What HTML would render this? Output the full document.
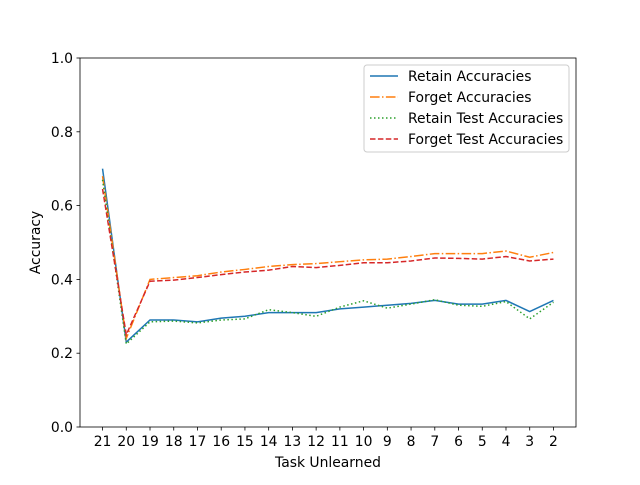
<!DOCTYPE html>
<html><head><meta charset="utf-8"><style>
body{margin:0;background:#fff}
text{font-family:"DejaVu Sans","Liberation Sans",sans-serif;font-size:13.9px;fill:#000}
</style></head><body>
<svg id="chart" width="640" height="480" xmlns="http://www.w3.org/2000/svg">
<rect width="640" height="480" fill="#fff"/>
<g id="plot"></g>
</svg>
<script>
const categories=["21","20","19","18","17","16","15","14","13","12","11","10","9","8","7","6","5","4","3","2"];
const retainAcc=[0.70,0.23,0.29,0.29,0.285,0.295,0.30,0.31,0.31,0.31,0.32,0.325,0.33,0.335,0.343,0.333,0.333,0.343,0.313,0.343];
const forgetAcc=[0.68,0.24,0.40,0.405,0.41,0.42,0.427,0.435,0.44,0.443,0.448,0.453,0.455,0.462,0.47,0.47,0.47,0.477,0.46,0.473];
const retainTestAcc=[0.67,0.225,0.285,0.287,0.282,0.29,0.293,0.318,0.31,0.30,0.325,0.342,0.322,0.333,0.345,0.33,0.327,0.34,0.293,0.338];
const forgetTestAcc=[0.645,0.25,0.395,0.398,0.405,0.413,0.42,0.425,0.435,0.432,0.438,0.445,0.445,0.45,0.458,0.457,0.455,0.462,0.45,0.455];
const yTicks=[0,0.2,0.4,0.6,0.8,1.0];
const yTickLabels=["0.0","0.2","0.4","0.6","0.8","1.0"];
const seriesNames=["Retain Accuracies","Forget Accuracies","Retain Test Accuracies","Forget Test Accuracies"];

const L=80,R=576,T=58,B=427;
const n=categories.length;
const x=i=>L+(i+0.95)*(R-L)/(n-1+1.9);
const y=v=>B-v*(B-T);
const g=document.getElementById('plot');
const NS="http://www.w3.org/2000/svg";
function mk(tag,attrs){const e=document.createElementNS(NS,tag);for(const k in attrs)e.setAttribute(k,attrs[k]);g.appendChild(e);return e;}

const frame=mk('rect',{x:L,y:T,width:R-L,height:B-T,fill:'none',stroke:'#000','stroke-width':0.8});



yTicks.forEach((v,i)=>{
  const t=mk('line',{x1:L-3.5,x2:L,y1:y(v),y2:y(v),stroke:'#000','stroke-width':0.8});
  
  
  const lb=mk('text',{x:L-7,y:y(v)+5,'text-anchor':'end'});lb.textContent=yTickLabels[i];
  
  
});
categories.forEach((c,i)=>{
  const t=mk('line',{x1:x(i),x2:x(i),y1:B,y2:B+3.5,stroke:'#000','stroke-width':0.8});
  
  
  const lb=mk('text',{x:x(i),y:B+19,'text-anchor':'middle'});lb.textContent=c;
  
  
});
const xt=mk('text',{x:(L+R)/2,y:467,'text-anchor':'middle'});xt.textContent="Task Unlearned";


const yt=mk('text',{x:0,y:0,'text-anchor':'middle',transform:`translate(40,${(T+B)/2}) rotate(-90)`});yt.textContent="Accuracy";



const styles=[
 {c:'#1f77b4',d:''},
 {c:'#ff7f0e',d:'9.6,2.4,1.5,2.4'},
 {c:'#2ca02c',d:'1.5,2.5'},
 {c:'#d62728',d:'5.5,2.4'}];
const all=[retainAcc,forgetAcc,retainTestAcc,forgetTestAcc];
const names=['retain-accuracy-line','forget-accuracy-line','retain-test-accuracy-line','forget-test-accuracy-line'];
all.forEach((s,k)=>{
  const p=mk('polyline',{points:s.map((v,i)=>x(i)+','+y(v)).join(' '),fill:'none',stroke:styles[k].c,'stroke-width':1.5,'stroke-dasharray':styles[k].d});
  
  
});

const lg=mk('rect',{x:364,y:65,width:205,height:87,rx:3,fill:'#fff','fill-opacity':0.8,stroke:'#ccc','stroke-width':1});


seriesNames.forEach((nm,k)=>{
  const yy=76+k*21;
  const ln=mk('line',{x1:370,x2:398,y1:yy,y2:yy,stroke:styles[k].c,'stroke-width':1.5,'stroke-dasharray':styles[k].d});
  
  
  const t=mk('text',{x:408,y:yy+5});t.textContent=nm;
  
  
});
</script>
</body></html>
